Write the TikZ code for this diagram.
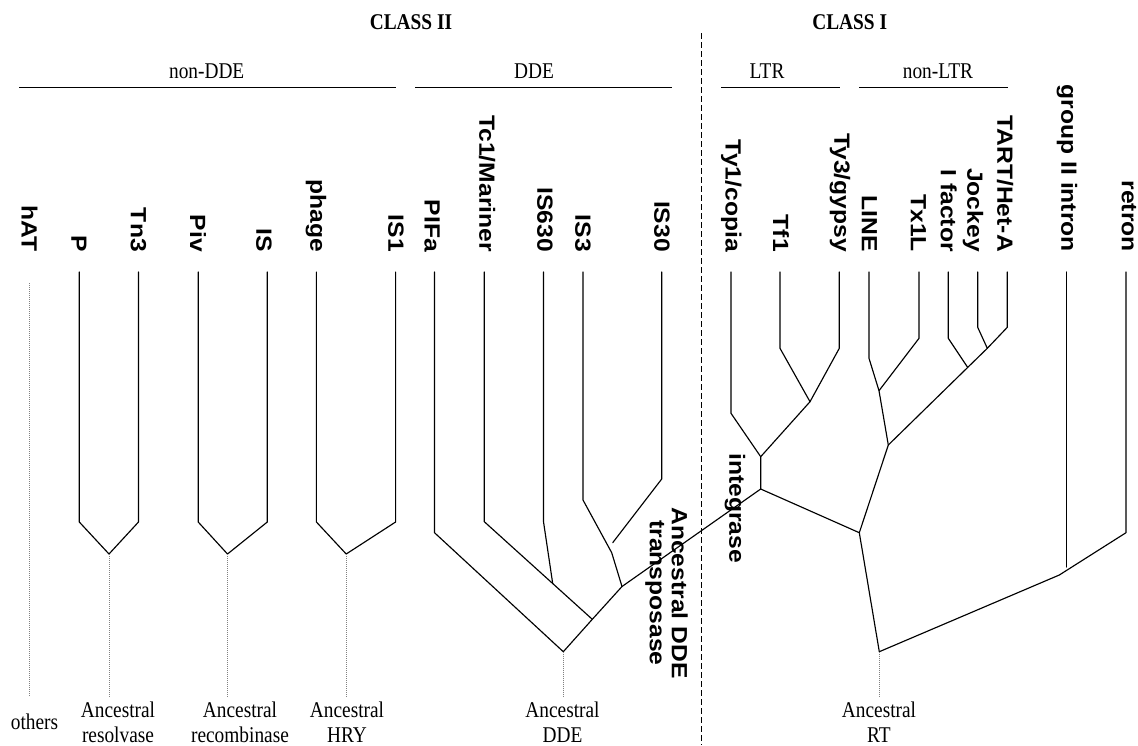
\documentclass[tikz,border=0pt]{standalone}
\usepackage{fontspec}
\setmainfont{Liberation Serif}[FakeStretch=0.86]
\newfontfamily\sanslabel{Liberation Sans}[FakeStretch=1.12]
\newcommand\leaffnt{\sanslabel\bfseries\fontsize{22}{22}\selectfont}
\newcommand\serfnt{\rmfamily\fontsize{22.5}{25}\selectfont}
\tikzset{
  leaf/.style={font=\leaffnt, rotate=-90, anchor=east, inner sep=0pt},
  vlab/.style={font=\leaffnt, rotate=-90, anchor=center, inner sep=0pt, align=center},
  hdr/.style={font=\serfnt, anchor=base, inner sep=0pt},
  anc/.style={font=\serfnt, align=center, inner sep=0pt, anchor=center},
  branch/.style={line width=1.15pt, line join=round, line cap=round},
  grp/.style={line width=1.4pt},
  root/.style={draw=gray, line width=0.7pt, dash pattern=on 1pt off 1pt},
  divide/.style={line width=0.9pt, dash pattern=on 6pt off 3pt}
}
\begin{document}
\begin{tikzpicture}[x=1pt,y=-1pt]
\useasboundingbox (0,0) rectangle (1138,745);

% ---------- class headers ----------
\node[hdr] (cII) at (411,29.3) {\bfseries CLASS II};
\node[hdr] (cI)  at (849.7,29.3) {\bfseries CLASS I};

\node[hdr] (gNonDDE) at (206.7,78) {non-DDE};
\node[hdr] (gDDE)    at (534,78) {DDE};
\node[hdr] (gLTR)    at (767,78) {LTR};
\node[hdr] (gNonLTR) at (938,78) {non-LTR};

\coordinate (bNonDDEa) at (19.3,87.5);  \coordinate (bNonDDEb) at (395.6,87.5);
\coordinate (bDDEa)    at (415,87.5);   \coordinate (bDDEb)    at (672.4,87.5);
\coordinate (bLTRa)    at (721,87.5);   \coordinate (bLTRb)    at (840,87.5);
\coordinate (bNonLTRa) at (859,87.5);   \coordinate (bNonLTRb) at (1008,87.5);
\draw[grp] (bNonDDEa) -- (bNonDDEb);
\draw[grp] (bDDEa) -- (bDDEb);
\draw[grp] (bLTRa) -- (bLTRb);
\draw[grp] (bNonLTRa) -- (bNonLTRb);

% class divider
\coordinate (divTop) at (701,33);
\coordinate (divBot) at (701,745);
\draw[divide] (divTop) -- (divBot);

% ---------- leaf labels ----------
\node[leaf] (lhAT)   at (29.5,252) {hAT};
\node[leaf] (lP)     at (79,252) {P};
\node[leaf] (lTn3)   at (138.5,252) {Tn3};
\node[leaf] (lPiv)   at (198,252) {Piv};
\node[leaf] (lIS)    at (264,252) {IS};
\node[leaf] (lphage) at (316,252) {phage};
\node[leaf] (lIS1)   at (396,252) {IS1};
\node[leaf] (lPIFa)  at (432,252) {PIFa};
\node[leaf] (lTc1)   at (487,252) {Tc1/Mariner};
\node[leaf] (lIS630) at (545,252) {IS630};
\node[leaf] (lIS3)   at (583,252) {IS3};
\node[leaf] (lIS30)  at (662,252) {IS30};
\node[leaf] (lTy1)   at (731.3,252) {Ty1/copia};
\node[leaf] (lTf1)   at (781,252) {Tf1};
\node[leaf] (lTy3)   at (840,252) {Ty3/gypsy};
\node[leaf] (lLINE)  at (869.5,252) {LINE};
\node[leaf] (lTx1L)  at (918.4,252) {Tx1L};
\node[leaf] (lIfac)  at (948.8,252) {I factor};
\node[leaf] (lJock)  at (973,252) {Jockey};
\node[leaf] (lTART)  at (1005,252) {TART/Het-A};
\node[leaf] (lGII)   at (1067,252) {group II intron};
\node[leaf] (lRet)   at (1129,252) {retron};

% ---------- branch points ----------
% non-DDE
\coordinate (tP) at (79.3,272);    \coordinate (kP) at (79.3,522);
\coordinate (tTn3) at (138.5,272); \coordinate (kTn3) at (138.5,522);
\coordinate (nRes) at (109,554);
\coordinate (tPiv) at (198.2,272); \coordinate (kPiv) at (198.2,522);
\coordinate (tIS) at (267.3,272);  \coordinate (kIS) at (267.3,522);
\coordinate (nRec) at (227.5,554);
\coordinate (tphage) at (316.4,272); \coordinate (kphage) at (316.4,522);
\coordinate (tIS1) at (395.6,272);   \coordinate (kIS1) at (395.6,522);
\coordinate (nHRY) at (346.2,554);
\coordinate (thAT) at (29.8,283);  \coordinate (ehAT) at (29.8,697);
\coordinate (eRes) at (109,697);
\coordinate (eRec) at (227.5,697);
\coordinate (eHRY) at (346.2,697);

% DDE
\coordinate (tPIFa) at (434.5,272);  \coordinate (kPIFa) at (434.5,532.7);
\coordinate (tTc1) at (484.3,272);   \coordinate (kTc1) at (484.3,521.7);
\coordinate (tIS630) at (543.5,272); \coordinate (kIS630) at (543.5,521.7);
\coordinate (jIS630) at (552.7,583.5);
\coordinate (tIS3) at (583,272);     \coordinate (kIS3) at (583,500);
\coordinate (mIS3) at (611.7,552.7);
\coordinate (tIS30) at (661.7,272);  \coordinate (kIS30) at (661.7,479);
\coordinate (fIS30) at (612.7,542.7);
\coordinate (nA) at (592.3,619.3);
\coordinate (nB) at (622,586.5);
\coordinate (nDDE) at (563.3,651.7);
\coordinate (eDDE) at (563.3,697);

% LTR / integrase
\coordinate (tTy1) at (731,272);   \coordinate (kTy1) at (731,413.3);
\coordinate (tTf1) at (780,272);   \coordinate (kTf1) at (780,348.3);
\coordinate (tTy3) at (839.3,272); \coordinate (kTy3) at (839.3,348.3);
\coordinate (nE) at (810,401.7);
\coordinate (nD) at (760.7,456.7);
\coordinate (nInt) at (760.7,489);

% non-LTR
\coordinate (tLINE) at (869,272);   \coordinate (kLINE) at (869,358.3);
\coordinate (tTx1L) at (919,272);   \coordinate (kTx1L) at (919,338.3);
\coordinate (nH) at (879,390.7);
\coordinate (tIfac) at (948.3,272); \coordinate (kIfac) at (948.3,338.3);
\coordinate (nJ) at (967.7,367.4);
\coordinate (tJock) at (977.7,272); \coordinate (kJock) at (977.7,327.3);
\coordinate (tTART) at (1007.3,272);\coordinate (kTART) at (1007.3,327.3);
\coordinate (nK) at (987.3,348.3);
\coordinate (nG) at (888.3,445);
\coordinate (nF) at (859.3,532.7);

% RT root, group II intron, retron
\coordinate (nRT) at (879.3,651.7);
\coordinate (eRT) at (879.3,697);
\coordinate (nM) at (1059.3,575);
\coordinate (tGII) at (1066.7,272); \coordinate (kGII) at (1066.7,567);
\coordinate (tRet) at (1126,272);   \coordinate (kRet) at (1126,532.7);

% ---------- branches ----------
\draw[branch] (tP) -- (kP) -- (nRes) -- (kTn3) -- (tTn3);
\draw[branch] (tPiv) -- (kPiv) -- (nRec) -- (kIS) -- (tIS);
\draw[branch] (tphage) -- (kphage) -- (nHRY) -- (kIS1) -- (tIS1);

\draw[branch] (tPIFa) -- (kPIFa) -- (nDDE) -- (nA) -- (nB) -- (nInt);
\draw[branch] (tTc1) -- (kTc1) -- (nA);
\draw[branch] (tIS630) -- (kIS630) -- (jIS630);
\draw[branch] (tIS3) -- (kIS3) -- (mIS3) -- (nB);
\draw[branch] (tIS30) -- (kIS30) -- (fIS30);

\draw[branch] (tTy1) -- (kTy1) -- (nD) -- (nInt);
\draw[branch] (tTf1) -- (kTf1) -- (nE) -- (kTy3) -- (tTy3);
\draw[branch] (nE) -- (nD);
\draw[branch] (nInt) -- (nF) -- (nG) -- (nJ) -- (nK);
\draw[branch] (tLINE) -- (kLINE) -- (nH) -- (nG);
\draw[branch] (tTx1L) -- (kTx1L) -- (nH);
\draw[branch] (tIfac) -- (kIfac) -- (nJ);
\draw[branch] (tJock) -- (kJock) -- (nK) -- (kTART) -- (tTART);
\draw[branch] (nF) -- (nRT) -- (nM) -- (kRet) -- (tRet);
\draw[branch] (tGII) -- (kGII);

% ancestral stems
\draw[root] (thAT) -- (ehAT);
\draw[root] (nRes) -- (eRes);
\draw[root] (nRec) -- (eRec);
\draw[root] (nHRY) -- (eHRY);
\draw[root] (nDDE) -- (eDDE);
\draw[root] (nRT) -- (eRT);

% ---------- branch annotations ----------
\node[vlab] (lInt) at (735,508.3) {integrase};
\node[vlab] (lTrans) at (666.5,593) {Ancestral DDE\\transposase};

% ---------- ancestral proteins ----------
\node[anc] (aOth) at (34.5,722) {others};
\node[anc] (aRes) at (118,722) {Ancestral\\resolvase};
\node[anc] (aRec) at (240,722) {Ancestral\\recombinase};
\node[anc] (aHRY) at (347,722) {Ancestral\\HRY};
\node[anc] (aDDE) at (562.5,722) {Ancestral\\DDE};
\node[anc] (aRT)  at (879,722) {Ancestral\\RT};
\end{tikzpicture}
\end{document}
